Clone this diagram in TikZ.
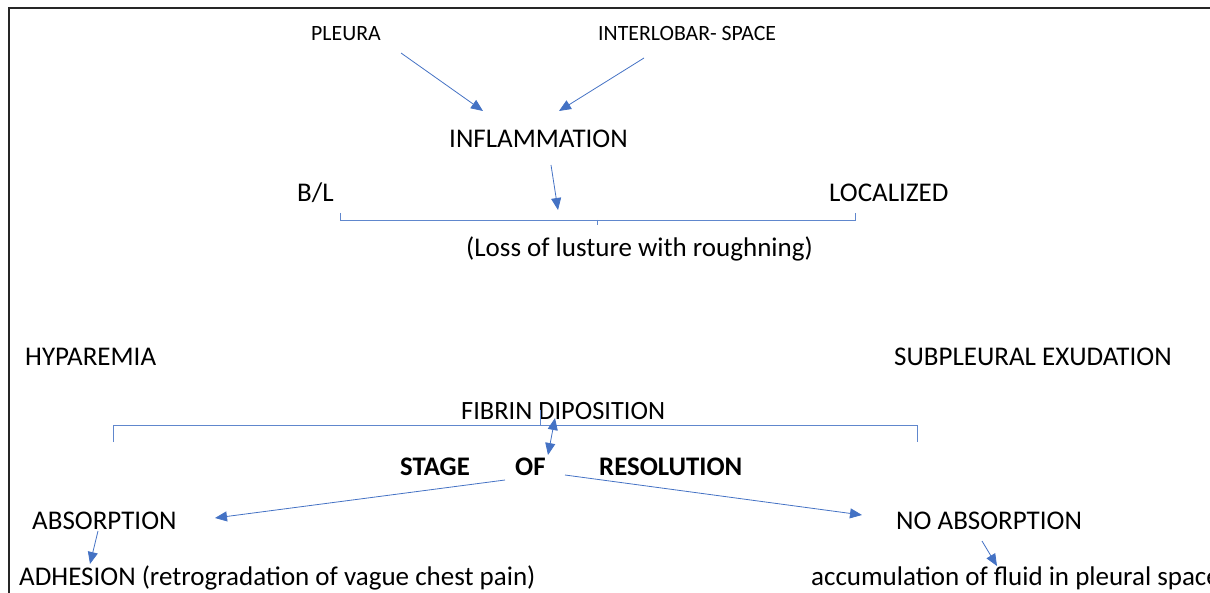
\documentclass[tikz,border=0pt]{standalone}
\usepackage{fontspec}
\setmainfont{Carlito}
\usetikzlibrary{arrows.meta}
\definecolor{arrowblue}{HTML}{4472C4}
\tikzset{
  flow/.style={draw=arrowblue, line width=0.8pt, -{Triangle[length=12pt,width=10pt]}},
  twoway/.style={draw=arrowblue, line width=0.8pt, {Triangle[length=12pt,width=10pt]}-{Triangle[length=12pt,width=10pt]}},
  brace/.style={draw=arrowblue!85, line width=0.9pt},
  term/.style={inner sep=0pt, anchor=base west, font=\fontsize{27}{31}\selectfont},
  smallterm/.style={inner sep=0pt, anchor=base west, font=\fontsize{21.8}{26}\selectfont},
  boldterm/.style={inner sep=0pt, anchor=base west, font=\fontsize{26.8}{31}\selectfont\bfseries},
}
\begin{document}
\begin{tikzpicture}[x=1pt, y=-1pt]
    \clip (0,0) rectangle (1210,593);
    \draw[line width=1.6pt, black!85] (9,593) -- (9,8) -- (1211,8);

    \node[smallterm] (Pleura) at (311,41) {PLEURA};
    \node[smallterm] (Interlobar) at (598,41) {INTERLOBAR- SPACE};
    \node[term] (Inflammation) at (449,148) {INFLAMMATION};
    \node[term] (Bilateral) at (297,202) {B/L};
    \node[term] (Localized) at (829,202) {LOCALIZED};
    \node[term] (Lusture) at (466,257) {(Loss of lusture with roughning)};
    \node[term] (Hyparemia) at (25,366) {HYPAREMIA};
    \node[term] (Exudation) at (894,366) {SUBPLEURAL EXUDATION};
    \node[term, font=\fontsize{26.4}{30}\selectfont] (Fibrin) at (461,420) {FIBRIN DIPOSITION};
    \node[boldterm] (Stage) at (400,475) {STAGE};
    \node[boldterm] (Of) at (515,475) {OF};
    \node[boldterm] (Resolution) at (599,475) {RESOLUTION};
    \node[term] (Absorption) at (32,529) {ABSORPTION};
    \node[term] (NoAbsorption) at (896,529) {NO ABSORPTION};
    \node[term] (Adhesion) at (19,585) {ADHESION (retrogradation of vague chest pain)};
    \node[term] (Accumulation) at (811,585) {accumulation of fluid in pleural space};

    \coordinate (PleuraStart) at (401,53);
    \coordinate (PleuraEnd) at (483,111);
    \coordinate (InterlobarStart) at (644,58);
    \coordinate (InterlobarEnd) at (559,111);
    \coordinate (InflammationStart) at (551,165);
    \coordinate (InflammationEnd) at (558,210);
    \coordinate (FibrinEnd) at (555,418);
    \coordinate (StageEnd) at (548,455);
    \coordinate (OfLeft) at (505,480);
    \coordinate (AbsorptionEnd) at (215,518);
    \coordinate (OfRight) at (565,475);
    \coordinate (NoAbsorptionEnd) at (862,515);
    \coordinate (AbsorptionStart) at (98,531);
    \coordinate (AdhesionEnd) at (90,564);
    \coordinate (NoAbsorptionStart) at (982,541);
    \coordinate (AccumulationEnd) at (997,566);

    \draw[brace] (340,213) -- (340,220) -- (855,220) -- (855,213);
    \draw[brace] (597,220) -- (597,225);
    \draw[brace] (113,442) -- (113,425) -- (917,425) -- (917,442);
    \draw[brace] (540,425) -- (540,410);

    \draw[flow] (PleuraStart) -- (PleuraEnd);
    \draw[flow] (InterlobarStart) -- (InterlobarEnd);
    \draw[flow] (InflammationStart) -- (InflammationEnd);
    \draw[twoway] (FibrinEnd) -- (StageEnd);
    \draw[flow] (OfLeft) -- (AbsorptionEnd);
    \draw[flow] (OfRight) -- (NoAbsorptionEnd);
    \draw[flow] (AbsorptionStart) -- (AdhesionEnd);
    \draw[flow] (NoAbsorptionStart) -- (AccumulationEnd);
\end{tikzpicture}
\end{document}
